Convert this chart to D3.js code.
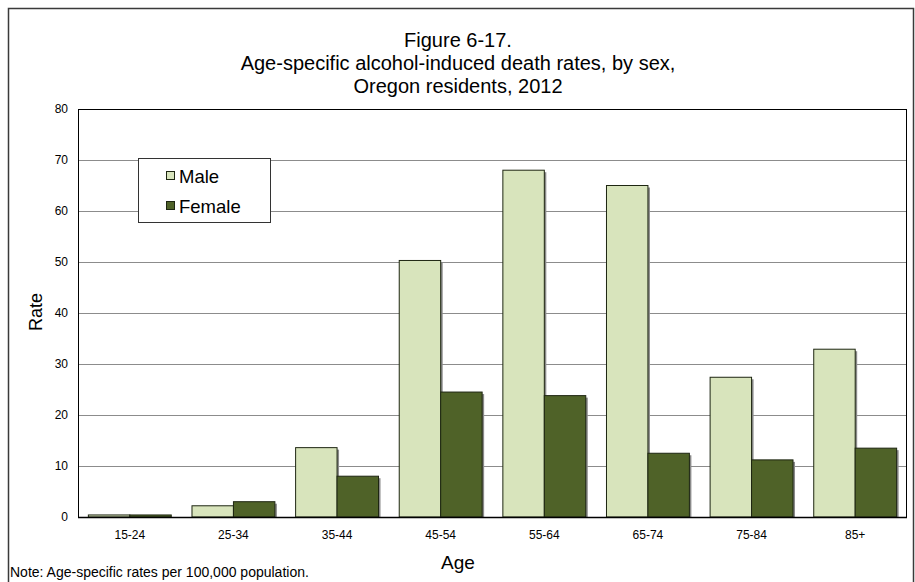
<!DOCTYPE html>
<html><head><meta charset="utf-8">
<script src="https://cdn.jsdelivr.net/npm/d3@7"></script>
<style>body{margin:0;background:#fff;} svg{display:block;font-family:"Liberation Sans",Arial,sans-serif;}</style>
</head><body>
<svg id="c" width="915" height="582"></svg>
<script>
const categories = ["15-24","25-34","35-44","45-54","55-64","65-74","75-84","85+"];
const seriesNames = ["Male","Female"];
const maleRates = [0.4, 2.2, 13.6, 50.3, 68.0, 65.0, 27.4, 32.9];
const femaleRates = [0.4, 3.0, 8.0, 24.5, 23.8, 12.5, 11.2, 13.5];
const yTicks = [0,10,20,30,40,50,60,70,80];
const titleLines = ["Figure 6-17.","Age-specific alcohol-induced death rates, by sex,","Oregon residents, 2012"];
const colors = {Male:"#d8e4bc", Female:"#4f6228"};

const svg = d3.select("#c");
const m = {left:78, right:907, top:109, bottom:517};

// outer border
svg.append("rect").attr("x",8.5).attr("y",8.5).attr("width",905).attr("height",600)
  .attr("fill","none").attr("stroke","#3a3a3a").attr("stroke-width",1.5);

// title
svg.append("g").selectAll("text").data(titleLines).join("text")
  .attr("x",458).attr("y",(d,i)=>47+i*23).attr("text-anchor","middle")
  .attr("font-size",20).attr("fill","#000").text(d=>d);

const x = d3.scaleBand().domain(categories).range([m.left,m.right]).paddingInner(0.2).paddingOuter(0.1);
const xs = d3.scaleBand().domain(seriesNames).range([0,x.bandwidth()]);
const y = d3.scaleLinear().domain([0,80]).range([m.bottom,m.top]);

// gridlines
svg.append("g").selectAll("line").data(yTicks.filter(t=>t>0&&t<80)).join("line")
  .attr("x1",m.left).attr("x2",m.right).attr("y1",d=>y(d)+0.5).attr("y2",d=>y(d)+0.5)
  .attr("stroke","#8c8c8c").attr("stroke-width",1);

// y axis labels
const yAxis = d3.axisLeft(y).tickValues(yTicks).tickSize(0).tickPadding(10);
const gy = svg.append("g").attr("transform",`translate(${m.left},0)`).call(yAxis);
gy.select(".domain").remove();
gy.selectAll("text").attr("font-size",12).attr("fill","#000").attr("font-family","Liberation Sans, Arial, sans-serif");

// x axis labels
const xAxis = d3.axisBottom(x).tickSize(0).tickPadding(13);
const gx = svg.append("g").attr("transform",`translate(0,${m.bottom})`).call(xAxis);
gx.select(".domain").remove();
gx.selectAll("text").attr("font-size",12).attr("fill","#000").attr("font-family","Liberation Sans, Arial, sans-serif");

const data = categories.map((c,i)=>({cat:c, vals:[{s:"Male",v:maleRates[i]},{s:"Female",v:femaleRates[i]}]}));
const groups = svg.append("g").selectAll("g").data(data).join("g")
  .attr("transform",d=>`translate(${x(d.cat)},0)`);
// shadows
groups.selectAll("rect.sh").data(d=>d.vals).join("rect").attr("class","sh")
  .attr("x",d=>xs(d.s)+2).attr("y",d=>y(d.v)+2)
  .attr("width",xs.bandwidth()).attr("height",d=>Math.max(0,m.bottom-y(d.v)-2))
  .attr("fill","#8a8a8a");
groups.selectAll("rect.bar").data(d=>d.vals).join("rect").attr("class","bar")
  .attr("x",d=>xs(d.s)).attr("y",d=>y(d.v))
  .attr("width",xs.bandwidth()).attr("height",d=>m.bottom-y(d.v))
  .attr("fill",d=>colors[d.s]).attr("stroke","#1e2612").attr("stroke-width",1);

// plot frame
svg.append("rect").attr("x",m.left+0.5).attr("y",m.top+0.5).attr("width",m.right-m.left-1).attr("height",m.bottom-m.top)
  .attr("fill","none").attr("stroke","#000").attr("stroke-width",1);
svg.append("line").attr("x1",m.left).attr("x2",m.right).attr("y1",m.bottom+0.5).attr("y2",m.bottom+0.5)
  .attr("stroke","#000").attr("stroke-width",1.5);

// axis titles
svg.append("text").attr("x",458).attr("y",569).attr("text-anchor","middle").attr("font-size",19).text("Age");
svg.append("text").attr("transform","translate(42,312) rotate(-90)").attr("text-anchor","middle").attr("font-size",18).text("Rate");

// legend
const lg = svg.append("g");
lg.append("rect").attr("x",138.5).attr("y",158.5).attr("width",132).attr("height",64)
  .attr("fill","#fff").attr("stroke","#333").attr("stroke-width",1);
const li = lg.selectAll("g").data(seriesNames).join("g")
  .attr("transform",(d,i)=>`translate(166,${171+i*30})`);
li.append("rect").attr("x",0.5).attr("y",0.5).attr("width",8).attr("height",8)
  .attr("fill",d=>colors[d]).attr("stroke","#1e2612").attr("stroke-width",1);
li.append("text").attr("x",13).attr("y",11.5).attr("font-size",18.5).text(d=>d);

// note
svg.append("text").attr("x",10).attr("y",577).attr("font-size",14).text("Note: Age-specific rates per 100,000 population.");
</script>
</body></html>
